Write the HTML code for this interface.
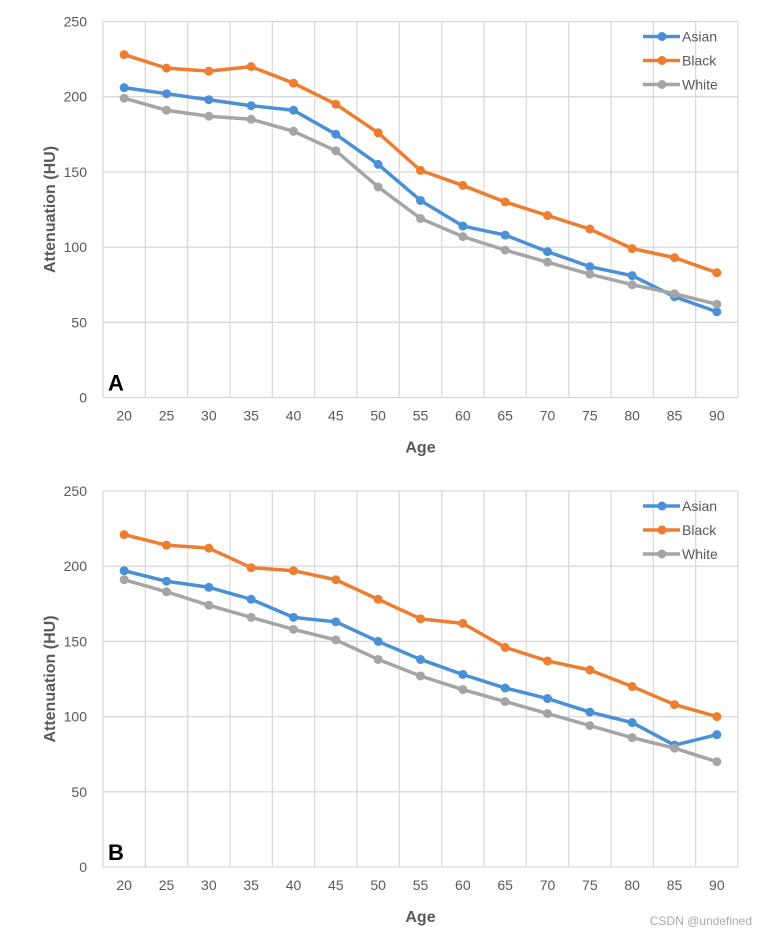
<!DOCTYPE html>
<html><head><meta charset="utf-8"><style>
body{margin:0;background:#fff;width:762px;height:934px;overflow:hidden;font-family:"Liberation Sans",sans-serif}
svg text{font-family:"Liberation Sans",sans-serif}
</style></head><body>
<svg id="c" width="762" height="934"></svg>
<script>
const categories=[20,25,30,35,40,45,50,55,60,65,70,75,80,85,90];
const yTicks=[0,50,100,150,200,250];
const seriesNames=["Asian","Black","White"];
const colors=["#4a90d6","#ed7d31","#a5a5a5"];
const asianA=[206,202,198,194,191,175,155,131,114,108,97,87,81,67,57];
const blackA=[228,219,217,220,209,195,176,151,141,130,121,112,99,93,83];
const whiteA=[199,191,187,185,177,164,140,119,107,98,90,82,75,69,62];
const asianB=[197,190,186,178,166,163,150,138,128,119,112,103,96,81,88];
const blackB=[221,214,212,199,197,191,178,165,162,146,137,131,120,108,100];
const whiteB=[191,183,174,166,158,151,138,127,118,110,102,94,86,79,70];
const NS="http://www.w3.org/2000/svg";
const svg=document.getElementById('c');
function mk(t,a,p){const e=document.createElementNS(NS,t);for(const k in a)e.setAttribute(k,a[k]);(p||svg).appendChild(e);return e;}
function panel(top,label,data,name){
  const g=mk('g',{});
  
  
  const L=103,R=738,T=top,B=top+376;
  const cw=(R-L)/categories.length;
  const x=i=>L+cw*(i+0.5);
  const y=v=>B-(v/250)*(B-T);
  yTicks.forEach(v=>{
    const l=mk('line',{x1:L,x2:R,y1:y(v),y2:y(v),stroke:'#d9d9d9','stroke-width':1.3},g);
    
    
    const t=mk('text',{x:L-16,y:y(v)+5,'text-anchor':'end','font-size':14,fill:'#595959'},g);
    t.textContent=v;
    
    
  });
  for(let i=0;i<=categories.length;i++){
    const l=mk('line',{x1:L+cw*i,x2:L+cw*i,y1:T,y2:B,stroke:'#d9d9d9','stroke-width':1.3},g);
    
    
  }
  categories.forEach((c,i)=>{
    const t=mk('text',{x:x(i),y:B+23,'text-anchor':'middle','font-size':14,fill:'#595959'},g);
    t.textContent=c;
    
    
  });
  const xt=mk('text',{x:(L+R)/2,y:B+55,'text-anchor':'middle','font-size':16,'font-weight':'bold',fill:'#595959'},g);
  xt.textContent='Age';
  
  
  const yt=mk('text',{x:0,y:0,transform:`translate(55,${(T+B)/2}) rotate(-90)`,'text-anchor':'middle','font-size':16,'font-weight':'bold',fill:'#595959'},g);
  yt.textContent='Attenuation (HU)';
  
  
  const pl=mk('text',{x:108,y:B-7,'font-size':22,'font-weight':'bold',fill:'#000'},g);
  pl.textContent=label;
  
  
  data.forEach((d,s)=>{
    const p=mk('polyline',{points:d.map((v,i)=>x(i)+','+y(v)).join(' '),fill:'none',stroke:colors[s],'stroke-width':3.5,'stroke-linejoin':'round'},g);
    
    
    d.forEach((v,i)=>{
      const c=mk('circle',{cx:x(i),cy:y(v),r:4.5,fill:colors[s]},g);
      
      
    });
    const ly=T+15+s*24;
    const ll=mk('line',{x1:643,x2:680,y1:ly,y2:ly,stroke:colors[s],'stroke-width':3.5},g);
    
    
    const lc=mk('circle',{cx:662,cy:ly,r:4.5,fill:colors[s]},g);
    
    
    const lt=mk('text',{x:682,y:ly+5,'font-size':14,fill:'#595959'},g);
    lt.textContent=seriesNames[s];
    
    
  });
}
panel(21.5,'A',[asianA,blackA,whiteA],'panel-a');
panel(491,'B',[asianB,blackB,whiteB],'panel-b');
const w=mk('text',{x:752,y:925,'text-anchor':'end','font-size':12,fill:'#aaaaaa'});
w.textContent='CSDN @undefined';


</script>
</body></html>
